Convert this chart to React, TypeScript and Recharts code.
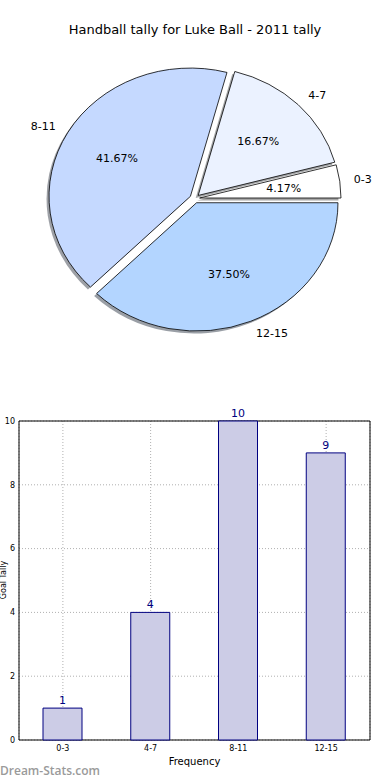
import React from 'react';
import { PieChart, Pie, BarChart, Bar, XAxis, YAxis, CartesianGrid, LabelList, ReferenceArea } from 'recharts';

const ranges = ['0-3', '4-7', '8-11', '12-15'];
const tallies = [1, 4, 10, 9];
const yTicks = [0, 2, 4, 6, 8, 10];
const wedgeColors = ['#ffffff', '#ebf2ff', '#c5d9ff', '#b3d5ff'];
const shadowColors = ['#4d4d4d', '#464a4d', '#3b414d', '#36404d'];

const data = ranges.map((range, i) => ({ range, tally: tallies[i] }));

const FONT = '"DejaVu Sans", sans-serif';
const STRETCH = 1.102; // the pie is wider than it is tall
const EXPLODE = 0.035;
const RAD = Math.PI / 180;

function wedge(cx: number, cy: number, r: number, start: number, end: number) {
  const rx = r * STRETCH;
  const mid = (start + end) / 2;
  const ox = cx + EXPLODE * rx * Math.cos(mid * RAD);
  const oy = cy - EXPLODE * r * Math.sin(mid * RAD);
  const x1 = ox + rx * Math.cos(start * RAD);
  const y1 = oy - r * Math.sin(start * RAD);
  const x2 = ox + rx * Math.cos(end * RAD);
  const y2 = oy - r * Math.sin(end * RAD);
  const large = end - start > 180 ? 1 : 0;
  return { d: `M${ox},${oy} L${x1},${y1} A${rx},${r} 0 ${large} 0 ${x2},${y2} Z`, ox, oy, rx, mid };
}

const renderShadow = (p: any) => {
  const w = wedge(p.cx, p.cy, p.outerRadius, p.startAngle, p.endAngle);
  return (
    <path d={w.d} transform="translate(-2.5,2.5)" fill={shadowColors[p.index]} fillOpacity={0.5} stroke="none" />
  );
};

const renderWedge = (p: any) => {
  const r = p.outerRadius;
  const w = wedge(p.cx, p.cy, r, p.startAngle, p.endAngle);
  const c = Math.cos(w.mid * RAD);
  const s = Math.sin(w.mid * RAD);
  const px = w.ox + 0.6 * w.rx * c;
  const py = w.oy - 0.6 * r * s;
  const lx = w.ox + 1.1 * w.rx * c;
  const ly = w.oy - 1.1 * r * s;
  return (
    <g>
      <path d={w.d} fill={wedgeColors[p.index]} stroke="#000" strokeWidth={0.8} strokeLinejoin="round" />
      <text x={px} y={py} dy="0.35em" textAnchor="middle" fontSize={11} fontFamily={FONT} fill="#000">
        {(p.percent * 100).toFixed(2)}%
      </text>
      <text x={lx} y={ly} dy="0.35em" textAnchor={c >= 0 ? 'start' : 'end'} fontSize={11} fontFamily={FONT} fill="#000">
        {p.name}
      </text>
    </g>
  );
};

export default function App() {
  return (
    <div style={{ position: 'absolute', left: 0, top: 0, width: 390, height: 780, background: '#fff', overflow: 'hidden', fontFamily: FONT }}>
      <div style={{ position: 'absolute', top: 22, left: 0, width: 390, textAlign: 'center', fontSize: 13, lineHeight: '16px', color: '#000' }}>
        Handball tally for Luke Ball - 2011 tally
      </div>

      <div style={{ position: 'absolute', top: 0, left: 0 }}>
        <PieChart width={390} height={370} margin={{ top: 0, right: 0, bottom: 0, left: 0 }}>
          <Pie
            data={data}
            dataKey="tally"
            nameKey="range"
            cx={194.7}
            cy={198.6}
            outerRadius={128.3}
            startAngle={0}
            endAngle={360}
            fill="none"
            stroke="none"
            labelLine={false}
            label={renderShadow}
            isAnimationActive={false}
          />
          <Pie
            data={data}
            dataKey="tally"
            nameKey="range"
            cx={194.7}
            cy={198.6}
            outerRadius={128.3}
            startAngle={0}
            endAngle={360}
            fill="none"
            stroke="none"
            labelLine={false}
            label={renderWedge}
            isAnimationActive={false}
          />
        </PieChart>
      </div>

      <div style={{ position: 'absolute', top: 400, left: 0 }}>
        <BarChart width={390} height={380} data={data} margin={{ top: 21, right: 20, bottom: 0, left: 0 }}>
          <CartesianGrid stroke="#b0b0b0" strokeDasharray="1 2" />
          <XAxis
            dataKey="range"
            height={40}
            tickLine={false}
            axisLine={false}
            tickSize={3}
            tickMargin={2}
            tick={{ fontSize: 8, fill: '#000', fontFamily: FONT }}
            label={{ value: 'Frequency', position: 'insideBottom', offset: 15, fontSize: 10, fill: '#000', fontFamily: FONT }}
          />
          <YAxis
            width={19}
            domain={[0, 10]}
            ticks={yTicks}
            tickLine={false}
            axisLine={false}
            tickSize={2}
            tickMargin={2}
            tick={{ fontSize: 8, fill: '#000', fontFamily: FONT }}
          />
          <Bar dataKey="tally" barSize={39} fill="#cccce6" stroke="#000080" strokeWidth={1} isAnimationActive={false}>
            <LabelList dataKey="tally" position="top" offset={4} fill="#000080" fontSize={11} fontFamily={FONT} />
          </Bar>
          <ReferenceArea y1={0} y2={10} fill="none" stroke="#000" strokeWidth={1} fillOpacity={0} ifOverflow="visible" />
        </BarChart>
      </div>

      <div style={{ position: 'absolute', left: 0, top: 545, width: 8, height: 70 }}>
        <div style={{ position: 'absolute', left: -31, top: 31, width: 70, height: 8, lineHeight: '8px', fontSize: 8, textAlign: 'center', whiteSpace: 'nowrap', transform: 'rotate(-90deg)' }}>
          Goal Tally
        </div>
      </div>

      <div style={{ position: 'absolute', left: 0, top: 762, fontFamily: '"Open Sans", sans-serif', fontWeight: 600, fontSize: 12, color: '#9a9a9a' }}>
        Dream-Stats.com
      </div>
    </div>
  );
}
